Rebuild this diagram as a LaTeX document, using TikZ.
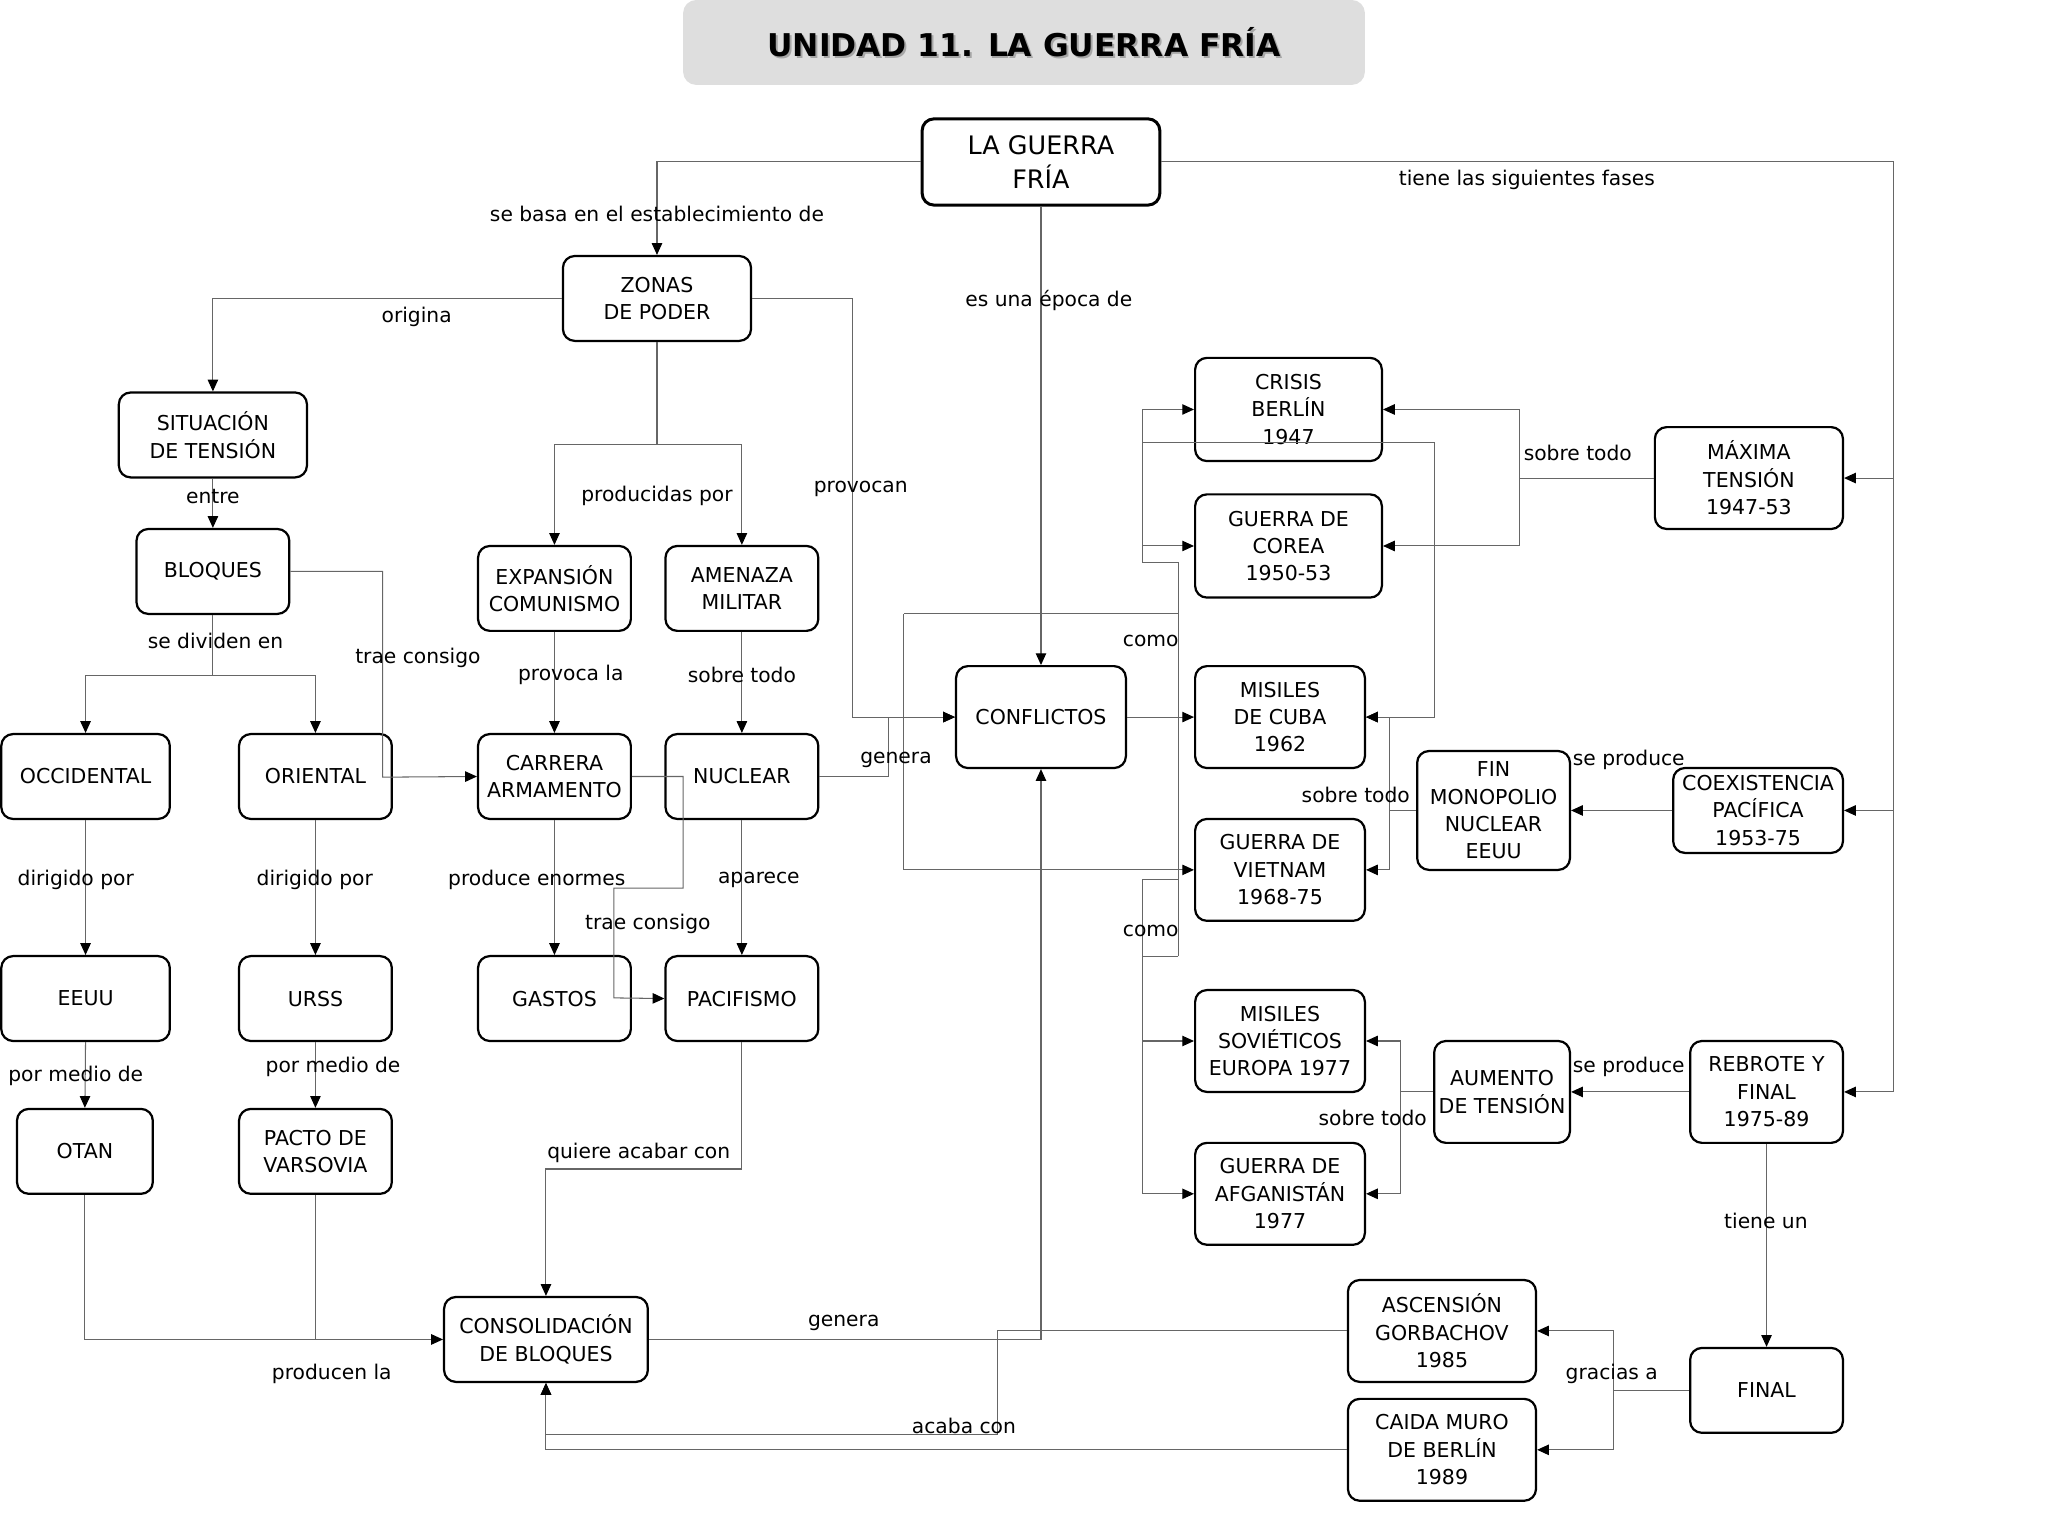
\documentclass[tikz,border=0pt]{standalone}
\usepackage{fontspec}
\setmainfont{DejaVu Sans}
\usetikzlibrary{arrows.meta}

\begin{document}
\begin{tikzpicture}[x=1pt,y=-1pt,
 box/.style={draw,rounded corners=9pt,line width=1.7pt,align=center,
 font=\fontsize{15.7}{21}\selectfont,inner sep=0pt,
 minimum width=117pt,minimum height=65pt},
 widebox/.style={box,minimum width=144pt},
 tallbox/.style={box,minimum width=130pt,minimum height=78pt},
 lbl/.style={font=\fontsize{15.5}{21}\selectfont,inner sep=0pt},
 conn/.style={draw=black!60,line width=0.8pt},
 arr/.style={conn,-{Triangle[length=9pt,width=8pt,color=black]}}]
\useasboundingbox (0,0) rectangle (1568,1176);
% titulo
\node[fill=black!13,rounded corners=10pt,minimum width=522pt,minimum height=65pt] (titulo) at (784,32.5) {};
\node[text=black!35,font=\fontsize{24}{28}\bfseries\selectfont] (titsombra) at (785.5,34) {UNIDAD 11. LA GUERRA FRÍA};
\node[font=\fontsize{24}{28}\bfseries\selectfont] (tittexto) at (784,32.5) {UNIDAD 11. LA GUERRA FRÍA};

% nodos
\node[box,minimum width=182pt,minimum height=66pt,line width=2.3pt,font=\fontsize{19.5}{26}\selectfont] (gf) at (797,124) {LA GUERRA\\FRÍA};
\node[widebox] (zonas) at (503,228.5) {ZONAS\\DE PODER};
\node[widebox] (sit) at (163,333) {SITUACIÓN\\DE TENSIÓN};
\node[box] (bloq) at (163,437.5) {BLOQUES};
\node[box] (expan) at (424.5,450.5) {EXPANSIÓN\\COMUNISMO};
\node[box] (amen) at (568,450.5) {AMENAZA\\MILITAR};
\node[box,minimum width=129pt] (occ) at (65.5,594.5) {OCCIDENTAL};
\node[box] (ori) at (241.5,594.5) {ORIENTAL};
\node[box] (carr) at (424.5,594.5) {CARRERA\\ARMAMENTO};
\node[box] (nucl) at (568,594.5) {NUCLEAR};
\node[box,minimum width=129pt] (eeuu) at (65.5,764.5) {EEUU};
\node[box] (urss) at (241.5,764.5) {URSS};
\node[box] (gastos) at (424.5,764.5) {GASTOS};
\node[box] (pacif) at (568,764.5) {PACIFISMO};
\node[box,minimum width=104pt] (otan) at (65,881.5) {OTAN};
\node[box] (pacto) at (241.5,881.5) {PACTO DE\\VARSOVIA};
\node[box,minimum width=156pt] (consol) at (418,1025.5) {CONSOLIDACIÓN\\DE BLOQUES};
\node[tallbox] (confl) at (797,549) {CONFLICTOS};
\node[tallbox,minimum width=143pt,minimum height=79pt] (crisis) at (986.5,313.5) {CRISIS\\BERLÍN\\1947};
\node[tallbox,minimum width=143pt,minimum height=79pt] (corea) at (986.5,418) {GUERRA DE\\COREA\\1950-53};
\node[tallbox] (cuba) at (980,549) {MISILES\\DE CUBA\\1962};
\node[tallbox] (viet) at (980,666) {GUERRA DE\\VIETNAM\\1968-75};
\node[tallbox] (sov) at (980,797) {MISILES\\SOVIÉTICOS\\EUROPA 1977};
\node[tallbox] (afgan) at (980,914) {GUERRA DE\\AFGANISTÁN\\1977};
\node[tallbox,minimum width=144pt] (maxima) at (1339,366) {MÁXIMA\\TENSIÓN\\1947-53};
\node[box,minimum height=91pt] (fin) at (1143.5,620.5) {FIN\\MONOPOLIO\\NUCLEAR\\EEUU};
\node[box,minimum width=130pt] (coex) at (1346,620.5) {COEXISTENCIA\\PACÍFICA\\1953-75};
\node[tallbox,minimum width=104pt] (aum) at (1150,836) {AUMENTO\\DE TENSIÓN};
\node[tallbox,minimum width=117pt] (rebrote) at (1352.5,836) {REBROTE Y\\FINAL\\1975-89};
\node[box] (final) at (1352.5,1064.5) {FINAL};
\node[tallbox,minimum width=144pt] (asc) at (1104,1019) {ASCENSIÓN\\GORBACHOV\\1985};
\node[tallbox,minimum width=144pt] (caida) at (1104,1110) {CAIDA MURO\\DE BERLÍN\\1989};

% puntos de paso
\coordinate (fases) at (1450,124);
\coordinate (prod) at (503,340);
\coordinate (prov) at (653,549);
\coordinate (divi) at (163,517);
\coordinate (trae1) at (293,595);
\coordinate (trae2a) at (523,680);
\coordinate (trae2b) at (470,764);
\coordinate (gen1) at (680,549);
\coordinate (quiere) at (568,895);
\coordinate (acaba) at (764,1098);
\coordinate (comoA) at (692,470);
\coordinate (comoB) at (902,470);
\coordinate (comoC) at (902,431);
\coordinate (comoD) at (875,431);
\coordinate (comoE) at (875,339);
\coordinate (comoF) at (1098,549);
\coordinate (comoG) at (902,732);
\coordinate (comoH) at (875,732);
\coordinate (comoI) at (902,673);
\coordinate (comoJ) at (875,673);
\coordinate (sobre1) at (1163,366);
\coordinate (sobre2) at (1064,620.5);
\coordinate (sobre3) at (1072,836);
\coordinate (gracias) at (1235,1064.5);

% conectores
\draw[arr] (gf.west) -| (zonas.north);
\draw[arr] (gf.south) -- (confl.north);
\draw[arr] (gf.east) -- (fases) |- (rebrote.east);
\draw[arr] (fases |- maxima.east) -- (maxima.east);
\draw[arr] (fases |- coex.east) -- (coex.east);
\draw[arr] (zonas.west) -| (sit.north);
\draw[conn] (zonas.south) -- (prod);
\draw[arr] (prod) -| (expan.north);
\draw[arr] (prod) -| (amen.north);
\draw[arr] (zonas.east) -| (prov) -- (confl.west);
\draw[arr] (sit.south) -- (bloq.north);
\draw[conn] (bloq.south) -- (divi);
\draw[arr] (divi) -| (occ.north);
\draw[arr] (divi) -| (ori.north);
\draw[arr] (bloq.east) -| (trae1) -- (carr.west);
\draw[arr] (expan.south) -- (carr.north);
\draw[arr] (amen.south) -- (nucl.north);
\draw[arr] (occ.south) -- (eeuu.north);
\draw[arr] (ori.south) -- (urss.north);
\draw[arr] (eeuu.south) -- (otan.north);
\draw[arr] (urss.south) -- (pacto.north);
\draw[arr] (carr.south) -- (gastos.north);
\draw[arr] (nucl.south) -- (pacif.north);
\draw[arr] (carr.east) -| (trae2a) -| (trae2b) -- (pacif.west);
\draw[arr] (nucl.east) -| (gen1) -- (confl.west);
\draw[arr] (confl.east) -- (cuba.west);
% como
\draw[conn] (comoA) -- (comoB);
\draw[arr] (comoA) |- (viet.west);
\draw[conn] (comoG) -- (comoC) -- (comoD);
\draw[arr] (comoD) |- (crisis.west);
\draw[arr] (comoD |- corea.west) -- (corea.west);
\draw[arr] (comoE) -| (comoF) -- (cuba.east);
\draw[conn] (comoI) -- (comoJ);
\draw[conn] (comoG) -- (comoH);
\draw[arr] (comoJ) |- (afgan.west);
\draw[arr] (comoJ |- sov.west) -- (sov.west);
% fases
\draw[conn] (maxima.west) -- (sobre1);
\draw[arr] (sobre1) |- (crisis.east);
\draw[arr] (sobre1) |- (corea.east);
\draw[arr] (coex.west) -- (fin.east);
\draw[conn] (fin.west) -- (sobre2);
\draw[arr] (sobre2) |- (cuba.east);
\draw[arr] (sobre2) |- (viet.east);
\draw[arr] (rebrote.west) -- (aum.east);
\draw[conn] (aum.west) -- (sobre3);
\draw[arr] (sobre3) |- (sov.east);
\draw[arr] (sobre3) |- (afgan.east);
\draw[arr] (rebrote.south) -- (final.north);
\draw[conn] (final.west) -- (gracias);
\draw[arr] (gracias) |- (asc.east);
\draw[arr] (gracias) |- (caida.east);
% bloques
\draw[arr] (pacif.south) -- (quiere) -| (consol.north);
\draw[arr] (otan.south) |- (consol.west);
\draw[conn] (pacto.south) -- (pacto.south |- consol.west);
\draw[arr] (consol.east) -| (confl.south);
\draw[arr] (asc.west) -| (acaba) -| (consol.south);
\draw[arr] (caida.west) -| (consol.south);

% etiquetas
\node[lbl] (lBasa) at (503,164) {se basa en el establecimiento de};
\node[lbl] (lEpoca) at (803,230) {es una época de};
\node[lbl] (lFases) at (1169,138) {tiene las siguientes fases};
\node[lbl] (lOrigina) at (319,243) {origina};
\node[lbl] (lProd) at (503,380) {producidas por};
\node[lbl] (lProv) at (659,374) {provocan};
\node[lbl] (lEntre) at (163,380) {entre};
\node[lbl] (lDivi) at (165,491) {se dividen en};
\node[lbl] (lTrae1) at (320,504) {trae consigo};
\node[lbl] (lProvoca) at (437,517) {provoca la};
\node[lbl] (lSobreA) at (568,517) {sobre todo};
\node[lbl] (lDirA) at (58,674) {dirigido por};
\node[lbl] (lDirB) at (241,674) {dirigido por};
\node[lbl] (lMedA) at (58,824) {por medio de};
\node[lbl] (lMedB) at (255,817) {por medio de};
\node[lbl] (lEnorm) at (411,674) {produce enormes};
\node[lbl] (lAparece) at (581,674) {aparece};
\node[lbl] (lTrae2) at (496,707) {trae consigo};
\node[lbl] (lGen1) at (686,582) {genera};
\node[lbl] (lComo1) at (881,491) {como};
\node[lbl] (lComo2) at (881,713) {como};
\node[lbl] (lQuiere) at (489,883) {quiere acabar con};
\node[lbl] (lProduc) at (254,1052) {producen la};
\node[lbl] (lGen2) at (646,1013) {genera};
\node[lbl] (lAcaba) at (738,1092) {acaba con};
\node[lbl] (lTiene) at (1352,935) {tiene un};
\node[lbl] (lGracias) at (1234,1052) {gracias a};
\node[lbl] (lSobreB) at (1208,347) {sobre todo};
\node[lbl] (lProdA) at (1247,582) {se produce};
\node[lbl] (lSobreC) at (1038,609) {sobre todo};
\node[lbl] (lProdB) at (1247,817) {se produce};
\node[lbl] (lSobreD) at (1051,856) {sobre todo};
\end{tikzpicture}
\end{document}
